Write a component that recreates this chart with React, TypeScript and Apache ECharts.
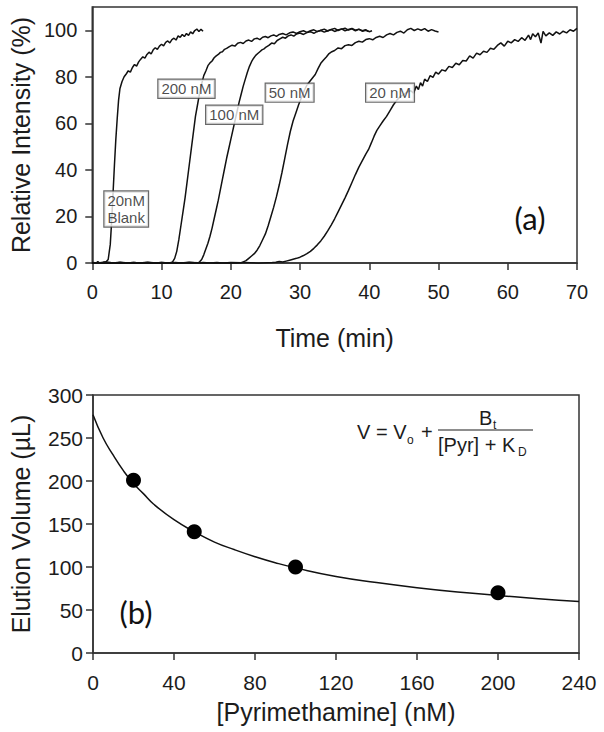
import React, { useEffect, useRef } from "react";
import * as echarts from "echarts";

// ---------- Panel (a): elution profiles, [time (min), relative intensity (%)] ----------
const blankCurve: number[][] = [
  [0, 0.3], [0.4, -0.6], [0.8, 0.6], [1.2, -0.4], [1.6, 0.3], [2.0, 0.5], [2.3, 1.5], [2.6, 8], [2.8, 18],
  [3.0, 30], [3.2, 42], [3.4, 53], [3.6, 62], [3.8, 70], [4.0, 75], [4.3, 78], [4.6, 80], [4.9, 81.2],
  [5.2, 82.6], [5.5, 82], [5.8, 84], [6.1, 85.3], [6.4, 84.6], [6.7, 86.4], [7.0, 87.6], [7.3, 88.6],
  [7.6, 88], [7.9, 89.6], [8.2, 90.6], [8.5, 89.8], [8.8, 91.6], [9.1, 92.5], [9.4, 91.8], [9.7, 93.2],
  [10.0, 94], [10.3, 93.3], [10.6, 94.8], [10.9, 95.4], [11.2, 94.6], [11.5, 96], [11.8, 96.6], [12.1, 95.8],
  [12.4, 97.6], [12.7, 97], [13.0, 98.2], [13.3, 97.3], [13.6, 98.6], [13.9, 97.8], [14.2, 99.3], [14.5, 98.5],
  [14.8, 99.9], [15.1, 100.5], [15.4, 99.5], [15.7, 100.4], [16.0, 99.6]
];

const nM200Curve: number[][] = [
  [0, 0.2], [2, -0.3], [4, 0.3], [6, -0.2], [8, 0.2], [10, -0.2], [11.3, 0.1], [11.6, 0.5], [11.9, 2],
  [12.2, 5], [12.5, 10], [12.8, 16], [13.1, 22], [13.4, 28], [13.7, 35], [14.0, 42], [14.3, 49], [14.6, 56],
  [14.9, 63], [15.2, 68], [15.5, 73], [15.8, 77], [16.1, 80.5], [16.4, 82.5], [16.7, 84.8], [17.0, 86],
  [17.3, 86.8], [17.6, 88.2], [17.9, 89], [18.2, 89.6], [18.5, 90.5], [18.8, 90.8], [19.1, 91.8], [19.4, 92.2],
  [19.8, 93], [20.2, 93.6], [20.6, 93.2], [21.0, 94.4], [21.4, 94.8], [21.8, 94.3], [22.2, 95.4], [22.6, 95.8],
  [23.0, 95.2], [23.4, 96.3], [23.8, 96.6], [24.2, 96], [24.6, 97], [25.0, 97.3], [25.4, 96.8], [25.8, 97.6],
  [26.2, 98], [26.6, 97.4], [27.0, 98.2], [27.5, 98.6], [28.0, 98], [28.5, 98.9], [29.0, 99.3], [29.5, 98.6],
  [30.0, 99.4], [30.5, 99.8], [31.0, 99.1], [31.5, 99.8], [32.0, 100.2], [32.5, 99.4], [33.0, 100],
  [33.5, 100.5], [34.0, 99.7], [34.5, 100.3], [35.0, 100.8], [35.5, 99.9], [36.0, 100.5], [36.5, 100.9],
  [37.0, 100.1], [37.5, 100.6], [38.0, 99.8], [38.5, 100.4], [39.0, 99.6], [39.5, 100], [39.9, 99.5]
];

const nM100Curve: number[][] = [
  [0, -0.2], [2, 0.3], [4, -0.2], [6, 0.2], [8, -0.3], [10, 0.2], [12, -0.2], [14, 0.2], [15.3, 0.1],
  [15.5, 0.5], [15.8, 1.5], [16.1, 3.5], [16.4, 6], [16.7, 8.5], [17.0, 11.5], [17.3, 15], [17.6, 19],
  [17.9, 23], [18.2, 27], [18.5, 31.5], [18.8, 36], [19.1, 40.5], [19.4, 45], [19.7, 49], [20.0, 53],
  [20.3, 57], [20.6, 61], [20.9, 65], [21.2, 69], [21.5, 72.5], [21.8, 76], [22.1, 79], [22.4, 82],
  [22.7, 84.5], [23.0, 86.5], [23.3, 88], [23.6, 89.2], [23.9, 90], [24.2, 90.8], [24.5, 91.6], [24.8, 92],
  [25.1, 92.8], [25.5, 93.5], [25.9, 94.5], [26.3, 94.2], [26.7, 95.6], [27.1, 96.3], [27.5, 97], [27.9, 96.6],
  [28.3, 97.6], [28.7, 98], [29.1, 97.5], [29.5, 98.4], [30.0, 98.8], [30.5, 98.2], [31.0, 99], [31.5, 99.4],
  [32.0, 98.7], [32.5, 99.5], [33.0, 99.9], [33.5, 99.2], [34.0, 99.8], [34.5, 100.3], [35.0, 99.5],
  [35.5, 100.1], [36.0, 100.6], [36.5, 99.8], [37.0, 100.3], [37.5, 100.8], [38.0, 100], [38.5, 100.5],
  [39.0, 99.8], [39.5, 100.2], [40.0, 99.4], [40.4, 99.8]
];

const nM50Curve: number[][] = [
  [0, 0.1], [2, -0.3], [4, 0.2], [6, -0.2], [8, 0.3], [10, -0.2], [12, 0.2], [14, -0.3], [16, 0.2],
  [18, -0.2], [20, 0.2], [21.5, 0.1], [21.8, 0.5], [22.2, 1], [22.6, 2], [23.0, 3], [23.4, 4], [23.8, 5.5],
  [24.2, 7.5], [24.6, 10], [25.0, 12.5], [25.4, 16], [25.8, 20], [26.2, 24], [26.6, 28.5], [27.0, 33.5],
  [27.4, 39], [27.8, 45], [28.2, 51], [28.6, 56.5], [29.0, 61], [29.4, 64.5], [29.8, 68], [30.2, 71],
  [30.6, 74], [31.0, 76.5], [31.4, 78], [31.8, 79.5], [32.2, 81], [32.6, 83.5], [33.0, 85.8], [33.4, 87.2],
  [33.8, 88.5], [34.2, 90], [34.6, 90.8], [35.0, 91.3], [35.5, 92.4], [36.0, 92.1], [36.5, 93.4], [37.0, 93.8],
  [37.5, 93.5], [38.0, 94.7], [38.5, 95.3], [39.0, 94.9], [39.5, 96], [40.0, 96.4], [40.5, 95.9], [41.0, 96.9],
  [41.5, 97.4], [42.0, 96.9], [42.5, 98], [43.0, 98.6], [43.5, 98], [44.0, 99.1], [44.5, 99.6], [45.0, 98.8],
  [45.5, 100.2], [46.0, 100.8], [46.5, 99.9], [47.0, 100.6], [47.5, 100], [48.0, 100.7], [48.5, 99.6],
  [49.0, 100.3], [49.5, 99.7], [50.0, 99.3]
];

const nM20Curve: number[][] = [
  [0, -0.1], [2, 0.3], [4, -0.2], [6, 0.2], [8, -0.3], [10, 0.2], [12, -0.2], [14, 0.3], [16, -0.2],
  [18, 0.2], [20, -0.3], [22, 0.2], [24, -0.1], [26, 0.2], [26.5, 0.3], [27, 0.6], [27.5, 0.4], [28, 0.8],
  [28.5, 1.2], [29, 1.6], [29.5, 2], [30, 2.5], [30.5, 3.2], [31, 4], [31.5, 5], [32, 6.3], [32.5, 7.8],
  [33, 9.5], [33.5, 11.5], [34, 13.8], [34.5, 16.3], [35, 19], [35.5, 22], [36, 25], [36.5, 28], [37, 31.2],
  [37.5, 34.6], [38, 38], [38.5, 41.2], [39, 44], [39.5, 46.8], [39.9, 48.8], [40.3, 51.6], [40.7, 54.5],
  [41.1, 57], [41.5, 58.8], [42, 61], [42.5, 63], [43, 65.5], [43.5, 68], [44, 70], [44.5, 71.5], [45, 72.5],
  [45.5, 73.5], [46, 74], [46.4, 73], [46.8, 76], [47.1, 74.5], [47.4, 77.5], [47.7, 76], [48, 79], [48.4, 78],
  [48.8, 80.5], [49.2, 79.8], [49.6, 82], [50, 81.2], [50.5, 83], [51, 82.5], [51.5, 84.5], [52, 84],
  [52.5, 85.8], [53, 85.2], [53.5, 87], [54, 86.8], [54.5, 89], [55, 88], [55.5, 90.2], [56, 89.5], [56.5, 91],
  [57, 90.5], [57.5, 92.3], [58, 91.8], [58.5, 93.5], [59, 94.6], [59.5, 93.2], [60, 95.3], [60.5, 94.6],
  [61, 96], [61.5, 95.2], [62, 96.8], [62.5, 95.7], [63, 97.9], [63.3, 96], [63.6, 98.5], [64, 97.2],
  [64.4, 98.8], [64.8, 94.5], [65.1, 99.5], [65.5, 97.6], [66, 98.9], [66.5, 97.8], [67, 99.3], [67.5, 98.4],
  [68, 99.6], [68.5, 98.9], [69, 100.2], [69.5, 99.6], [70, 100.8]
];

// Curve labels: [time, intensity] of the label centre, and the text
const curveLabelNames = ["20nM\nBlank", "200 nM", "100 nM", "50 nM", "20 nM"];
const curveLabelPos: number[][] = [[4.9, 23.2], [13.6, 74.9], [20.5, 63.7], [28.5, 73.2], [43, 73.2]];

const timeTickLabels = [0, 10, 20, 30, 40, 50, 60, 70];
const intensityTickLabels = [0, 20, 40, 60, 80, 100];

// ---------- Panel (b): elution volume vs [Pyrimethamine] ----------
const pyrConc = [20, 50, 100, 200];
const elutionVolume = [201, 141, 100, 70];
const fitConc = [0, 5, 10, 15, 20, 25, 30, 40, 50, 60, 70, 80, 90, 100, 120, 140, 160, 180, 200, 220, 240];
const fitVolume = [277, 250, 230, 212, 197, 185, 173, 155, 141, 129, 120, 112, 105, 99, 89, 82, 76, 71, 67, 63, 60];

const FONT = "'Liberation Sans', Arial, Helvetica, sans-serif";
const AXIS_COLOR = "#333";
const TEXT_COLOR = "#1c1c1c";

function axisCommon() {
  return {
    axisLine: { show: true, onZero: false, lineStyle: { color: AXIS_COLOR, width: 1.5 } },
    axisTick: { show: true, inside: false, length: 7, lineStyle: { color: AXIS_COLOR, width: 1.5 } },
    splitLine: { show: false },
    nameTextStyle: { fontFamily: FONT, fontSize: 25, color: TEXT_COLOR },
  };
}

export default function App() {
  const ref = useRef<HTMLDivElement>(null);

  useEffect(() => {
    if (!ref.current) return;
    const chart = echarts.init(ref.current, null, { renderer: "svg" });

    const curves = [blankCurve, nM200Curve, nM100Curve, nM50Curve, nM20Curve];
    const curveSeries = curves.map((d) => ({
      type: "line",
      xAxisIndex: 0,
      yAxisIndex: 0,
      data: d,
      showSymbol: false,
      symbol: "none",
      silent: true,
      lineStyle: { color: "#111", width: 1.5 },
      z: 2,
    }));

    const option: any = {
      animation: false,
      backgroundColor: "#fff",
      grid: [
        { left: 88, right: 27, top: 7, height: 256, show: true, borderColor: AXIS_COLOR, borderWidth: 1.5 },
        { left: 91, right: 25, top: 395, height: 258, show: true, borderColor: AXIS_COLOR, borderWidth: 1.5 },
      ],
      xAxis: [
        {
          ...axisCommon(),
          gridIndex: 0,
          type: "value",
          min: 0,
          max: 70,
          interval: 10,
          axisLabel: {
            fontFamily: FONT, fontSize: 20, color: TEXT_COLOR, margin: 19,
            customValues: timeTickLabels,
          },
          name: "Time (min)",
          nameLocation: "middle",
          nameGap: 62,
        },
        {
          ...axisCommon(),
          gridIndex: 1,
          type: "value",
          min: 0,
          max: 240,
          interval: 40,
          axisLabel: { fontFamily: FONT, fontSize: 21, color: TEXT_COLOR, margin: 19 },
          name: "[Pyrimethamine] (nM)",
          nameLocation: "middle",
          nameGap: 46,
        },
      ],
      yAxis: [
        {
          ...axisCommon(),
          gridIndex: 0,
          type: "value",
          min: 0,
          max: 110,
          interval: 20,
          axisTick: {
            show: true, inside: false, length: 7,
            lineStyle: { color: AXIS_COLOR, width: 1.5 },
            customValues: intensityTickLabels,
          },
          axisLabel: {
            fontFamily: FONT, fontSize: 20, color: TEXT_COLOR, margin: 15,
            customValues: intensityTickLabels,
          },
          name: "Relative Intensity (%)",
          nameLocation: "middle",
          nameGap: 53,
        },
        {
          ...axisCommon(),
          gridIndex: 1,
          type: "value",
          min: 0,
          max: 300,
          interval: 50,
          axisLabel: { fontFamily: FONT, fontSize: 21, color: TEXT_COLOR, margin: 10 },
          name: "Elution Volume (\u00b5L)",
          nameLocation: "middle",
          nameGap: 60,
        },
      ],
      series: [
        ...curveSeries,
        {
          type: "scatter",
          xAxisIndex: 0,
          yAxisIndex: 0,
          silent: true,
          symbolSize: 1,
          itemStyle: { color: "rgba(0,0,0,0)" },
          z: 10,
          data: curveLabelNames.map((n, i) => ({ name: n, value: curveLabelPos[i] })),
          label: {
            show: true,
            position: "inside",
            formatter: "{b}",
            fontFamily: FONT,
            fontSize: 15,
            lineHeight: 17,
            color: TEXT_COLOR,
            backgroundColor: "#fff",
            borderColor: "#444",
            borderWidth: 1.2,
            padding: [1, 3, 0, 3],
          },
        },
        {
          type: "line",
          xAxisIndex: 1,
          yAxisIndex: 1,
          data: fitConc.map((c, i) => [c, fitVolume[i]]),
          smooth: true,
          showSymbol: false,
          symbol: "none",
          silent: true,
          lineStyle: { color: "#111", width: 1.5 },
        },
        {
          type: "scatter",
          xAxisIndex: 1,
          yAxisIndex: 1,
          data: pyrConc.map((c, i) => [c, elutionVolume[i]]),
          symbol: "circle",
          symbolSize: 15,
          silent: true,
          itemStyle: { color: "#000", opacity: 1 },
          z: 5,
        },
      ],
      graphic: [
        {
          type: "text", x: 530, y: 218,
          style: { text: "(a)", fontFamily: "Lato, 'Open Sans', sans-serif", fontSize: 31, fill: "#111", align: "center", verticalAlign: "middle" },
        },
        {
          type: "text", x: 136, y: 612,
          style: { text: "(b)", fontFamily: "Lato, 'Open Sans', sans-serif", fontSize: 31, fill: "#111", align: "center", verticalAlign: "middle" },
        },
        // Equation: V = Vo + Bt / ([Pyr] + KD)
        {
          type: "text", x: 357, y: 432,
          style: { text: "V = V", fontFamily: FONT, fontSize: 20, fill: TEXT_COLOR, align: "left", verticalAlign: "middle" },
        },
        {
          type: "text", x: 407, y: 440,
          style: { text: "o", fontFamily: FONT, fontSize: 12, fill: TEXT_COLOR, align: "left", verticalAlign: "middle" },
        },
        {
          type: "text", x: 421, y: 432,
          style: { text: "+", fontFamily: FONT, fontSize: 20, fill: TEXT_COLOR, align: "left", verticalAlign: "middle" },
        },
        {
          type: "text", x: 479, y: 418,
          style: { text: "B", fontFamily: FONT, fontSize: 20, fill: TEXT_COLOR, align: "left", verticalAlign: "middle" },
        },
        {
          type: "text", x: 493, y: 425,
          style: { text: "t", fontFamily: FONT, fontSize: 12, fill: TEXT_COLOR, align: "left", verticalAlign: "middle" },
        },
        {
          type: "line",
          shape: { x1: 438, y1: 430, x2: 533, y2: 430 },
          style: { stroke: TEXT_COLOR, lineWidth: 1.2 },
        },
        {
          type: "text", x: 438, y: 445,
          style: { text: "[Pyr] + K", fontFamily: FONT, fontSize: 20, fill: TEXT_COLOR, align: "left", verticalAlign: "middle" },
        },
        {
          type: "text", x: 518, y: 452,
          style: { text: "D", fontFamily: FONT, fontSize: 12, fill: TEXT_COLOR, align: "left", verticalAlign: "middle" },
        },
      ],
    };

    chart.setOption(option);
    return () => chart.dispose();
  }, []);

  return (
    <div
      ref={ref}
      style={{ position: "absolute", left: 0, top: 0, width: 604, height: 732, background: "#fff" }}
    />
  );
}
